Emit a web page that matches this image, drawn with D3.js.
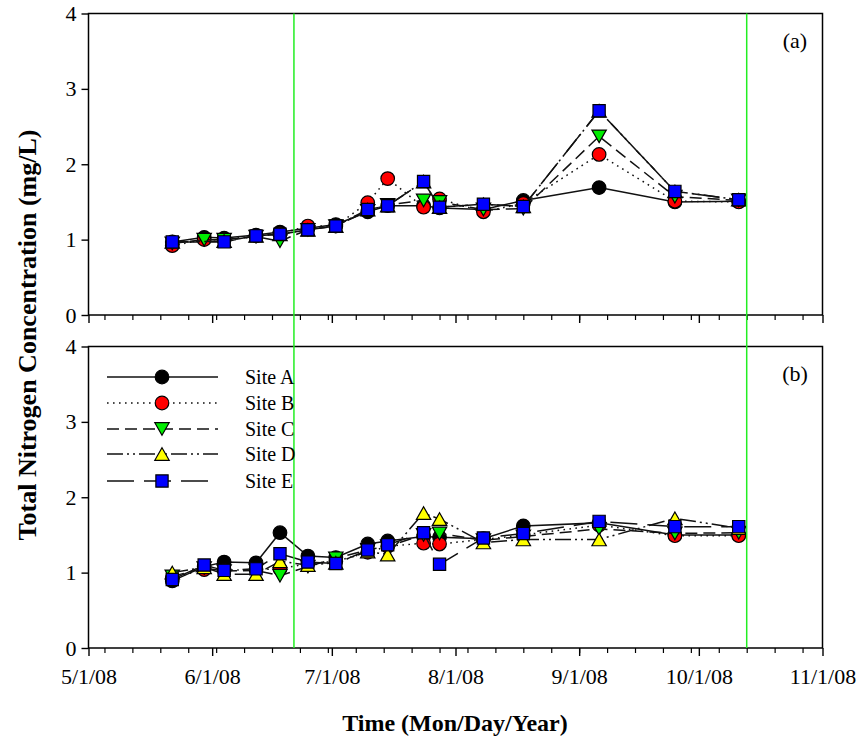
<!DOCTYPE html>
<html>
<head>
<meta charset="utf-8">
<script src="https://cdn.jsdelivr.net/npm/d3@7"></script>
<style>
  body { margin: 0; background: #fff; }
  svg { display: block; }
  text { font-family: "Liberation Serif", "Times New Roman", serif; fill: #000; }
</style>
</head>
<body>
<svg id="chart" width="865" height="741"></svg>
<script>
// Sampling dates shared by every site
const sampleDates = ["2008-05-22", "2008-05-30", "2008-06-04", "2008-06-12", "2008-06-18",
  "2008-06-25", "2008-07-02", "2008-07-10", "2008-07-15", "2008-07-24", "2008-07-28",
  "2008-08-08", "2008-08-18", "2008-09-06", "2008-09-25", "2008-10-11"];

const siteNames = ["Site A", "Site B", "Site C", "Site D", "Site E"];

// Panel (a) total nitrogen, mg/L
const siteA_a = [0.97, 1.03, 1.02, 1.06, 1.10, 1.15, 1.20, 1.37, 1.45, 1.45, 1.42, 1.40, 1.52, 1.69, 1.50, 1.51];
const siteB_a = [0.92, 1.00, 1.00, 1.05, 1.08, 1.18, 1.18, 1.49, 1.81, 1.43, 1.54, 1.37, 1.48, 2.13, 1.51, 1.50];
const siteC_a = [0.95, 1.00, 1.00, 1.04, 0.98, 1.13, 1.18, 1.38, 1.46, 1.52, 1.50, 1.40, 1.41, 2.37, 1.57, 1.52];
const siteD_a = [0.97, null, 0.98, 1.05, 1.07, 1.13, 1.18, 1.40, 1.45, 1.77, 1.43, 1.47, 1.44, 2.71, 1.64, 1.53];
const siteE_a = [0.97, null, 0.97, 1.05, 1.07, 1.13, 1.18, 1.40, 1.45, 1.77, 1.43, 1.47, 1.44, 2.71, 1.64, 1.53];

// Panel (b) total nitrogen, mg/L
const siteA_b = [0.89, 1.08, 1.14, 1.13, 1.53, 1.22, 1.20, 1.38, 1.42, 1.48, 1.47, 1.45, 1.62, 1.66, 1.50, 1.50];
const siteB_b = [0.93, 1.04, 1.03, 1.04, 1.05, 1.12, 1.15, 1.27, 1.35, 1.39, 1.38, 1.44, 1.50, 1.63, 1.49, 1.49];
const siteC_b = [0.95, 1.06, 1.02, 1.03, 0.96, 1.08, 1.19, 1.30, 1.35, 1.50, 1.52, 1.43, 1.48, 1.58, 1.52, 1.53];
const siteD_b = [1.00, 1.07, 0.98, 0.98, 1.15, 1.10, 1.13, 1.28, 1.24, 1.79, 1.71, 1.40, 1.44, 1.44, 1.72, 1.59];
const siteE_b = [0.91, 1.10, 1.03, 1.05, 1.25, 1.14, 1.12, 1.30, 1.37, 1.53, 1.11, 1.46, 1.52, 1.68, 1.61, 1.61];

// Axis range and reference dates
const dateDomain = ["2008-05-01", "2008-11-01"];
const yTicks = [0, 1, 2, 3, 4];
const referenceDates = ["2008-06-21T12:00", "2008-10-13"];
const panelLabels = ["(a)", "(b)"];

const parse = s => new Date(s + (s.length > 10 ? ":00Z" : "T00:00:00Z"));

// Series styling
const siteStyle = [
  { fill: "#000000", symbol: "circle",   dash: null },
  { fill: "#ff0000", symbol: "circle",   dash: "1.6,4.4" },
  { fill: "#00ee00", symbol: "triDown",  dash: "12,6" },
  { fill: "#ffff00", symbol: "triUp",    dash: "16,4,2,4,2,4" },
  { fill: "#0000ff", symbol: "square",   dash: "27,10" }
];

const svg = d3.select("#chart");
svg.append("rect").attr("width", 865).attr("height", 741).attr("fill", "#fff");

const left = 88.5, right = 822.5;
const panels = [
  { top: 13.5, bottom: 315, series: [siteA_a, siteB_a, siteC_a, siteD_a, siteE_a], label: panelLabels[0], showX: false },
  { top: 346.5, bottom: 648, series: [siteA_b, siteB_b, siteC_b, siteD_b, siteE_b], label: panelLabels[1], showX: true }
];

const x = d3.scaleUtc().domain(dateDomain.map(parse)).range([left, right]);
const dates = sampleDates.map(parse);

function markerPath(sym) {
  if (sym === "circle") return d3.symbol(d3.symbolCircle, 145)();
  if (sym === "square") return d3.symbol(d3.symbolSquare, 150)();
  // triangles: 14 px wide, centred on their box
  const w = 7.2, h = 6.3;
  if (sym === "triUp") return `M0,${-h}L${w},${h}L${-w},${h}Z`;
  return `M0,${h}L${w},${-h}L${-w},${-h}Z`;
}

const monthTicks = d3.utcMonth.range(parse(dateDomain[0]), new Date(parse(dateDomain[1]).getTime() + 1));
const weekTicks = d3.utcMonday.range(parse(dateDomain[0]), parse(dateDomain[1]));
const fmt = d3.utcFormat("%-m/%-d/%y");

panels.forEach(p => {
  const y = d3.scaleLinear().domain([0, 4]).range([p.bottom, p.top]);
  const g = svg.append("g");

  // y axis
  const ya = g.append("g").attr("transform", `translate(${left},0)`)
    .call(d3.axisLeft(y).tickValues(yTicks).tickSize(7).tickPadding(5).tickFormat(d3.format("d")));
  ya.select(".domain").remove();
  ya.selectAll("line").attr("stroke", "#000").attr("stroke-width", 1.4);
  ya.selectAll("text").style("font-size", "22px").style("font-family", "Liberation Serif, serif");

  // x axis: weekly minor ticks, monthly major ticks
  const xMinor = g.append("g").attr("transform", `translate(0,${p.bottom})`)
    .call(d3.axisBottom(x).tickValues(weekTicks).tickSize(5).tickFormat(""));
  xMinor.select(".domain").remove();
  xMinor.selectAll("line").attr("stroke", "#000").attr("stroke-width", 1.2);

  const xMajor = g.append("g").attr("transform", `translate(0,${p.bottom})`)
    .call(d3.axisBottom(x).tickValues(monthTicks).tickSize(8).tickPadding(12)
      .tickFormat(p.showX ? fmt : ""));
  xMajor.select(".domain").remove();
  xMajor.selectAll("line").attr("stroke", "#000").attr("stroke-width", 1.4);
  xMajor.selectAll("text").style("font-size", "22px").style("font-family", "Liberation Serif, serif");

  // series: line then symbols, site A drawn first
  p.series.forEach((vals, i) => {
    const st = siteStyle[i];
    const pts = vals.map((v, k) => ({ d: dates[k], v })).filter(o => o.v !== null);
    g.append("path").datum(pts)
      .attr("fill", "none").attr("stroke", "#111").attr("stroke-width", 1.5)
      .attr("stroke-dasharray", st.dash)
      .attr("d", d3.line().x(o => x(o.d)).y(o => y(o.v)));
    g.append("g").selectAll("path").data(pts).join("path")
      .attr("transform", o => `translate(${x(o.d)},${y(o.v)})`)
      .attr("d", markerPath(st.symbol))
      .attr("fill", st.fill).attr("stroke", "#000").attr("stroke-width", 1.2);
  });

  // frame
  g.append("rect").attr("x", left).attr("y", p.top)
    .attr("width", right - left).attr("height", p.bottom - p.top)
    .attr("fill", "none").attr("stroke", "#000").attr("stroke-width", 1.5);

  g.append("text").attr("x", 795).attr("y", p.top + 34)
    .attr("text-anchor", "middle").style("font-size", "22px").text(p.label);
});

// reference date lines across both panels
svg.append("g").selectAll("line").data(referenceDates.map(parse)).join("line")
  .attr("x1", d => x(d)).attr("x2", d => x(d))
  .attr("y1", panels[0].top).attr("y2", panels[1].bottom)
  .attr("stroke", "#22ee22").attr("stroke-width", 1.5);

// legend inside panel (b)
const legendRows = [377, 403, 429, 454, 481];
const lg = svg.append("g");
siteNames.forEach((name, i) => {
  const st = siteStyle[i];
  const yy = legendRows[i];
  lg.append("line").attr("x1", 107).attr("x2", 218).attr("y1", yy).attr("y2", yy)
    .attr("stroke", "#111").attr("stroke-width", 1.5).attr("stroke-dasharray", st.dash);
  lg.append("path").attr("transform", `translate(162,${yy})`).attr("d", markerPath(st.symbol))
    .attr("fill", st.fill).attr("stroke", "#000").attr("stroke-width", 1.2);
  lg.append("text").attr("x", 245).attr("y", yy + 7).style("font-size", "20px").text(name);
});

// axis titles
svg.append("text").attr("transform", "translate(36,335) rotate(-90)")
  .attr("text-anchor", "middle").style("font-size", "26px").style("font-weight", "bold")
  .text("Total Nitrogen Concentration (mg/L)");
svg.append("text").attr("x", 455).attr("y", 731)
  .attr("text-anchor", "middle").style("font-size", "24px").style("font-weight", "bold")
  .text("Time (Mon/Day/Year)");
</script>
</body>
</html>
